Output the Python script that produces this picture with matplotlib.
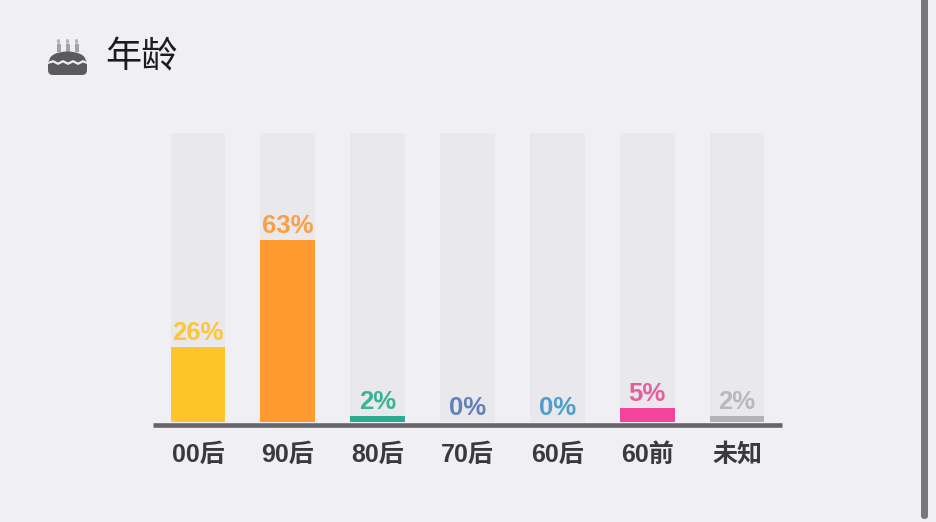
# Bar chart of age groups: each bar sits on a pale 100% track, with a cake icon next to the title.
import numpy as np
import matplotlib
matplotlib.use("Agg")
import matplotlib.pyplot as plt
from matplotlib.patches import Circle, Ellipse, FancyBboxPatch, Polygon, Rectangle

plt.rcParams["font.family"] = ["Liberation Sans", "Noto Sans CJK SC", "DejaVu Sans"]

BG = "#f0eff4"
TRACK = "#e9e8ec"
AXIS = "#666468"

categories = ["00后", "90后", "80后", "70后", "60后", "60前", "未知"]
values = [26, 63, 2, 0, 0, 5, 2]
track_values = [100, 100, 100, 100, 100, 100, 100]
bar_colors = ["#fdc52a", "#fe9a2e", "#2bab8f", "#5f7fbf", "#4a9bd0", "#f4459b", "#b3b2b5"]
label_colors = ["#fcc63a", "#f9a046", "#3bb397", "#6480ba", "#519dcb", "#e3609d", "#b9b8bc"]

W, H = 936, 522
fig = plt.figure(figsize=(W / 100, H / 100), dpi=100, facecolor=BG)

# overlay in pixel coordinates for the icon and the scrollbar
bg = fig.add_axes([0, 0, 1, 1])
bg.set_xlim(0, W); bg.set_ylim(H, 0); bg.axis("off")

# scrollbar on the right
bg.add_patch(FancyBboxPatch((921, -20), 7, 539, boxstyle="round,pad=0,rounding_size=3.5",
                            fc="#79777d", ec="none"))

# cake icon
ICON = "#5b5a5e"
for cx in (58.5, 67.5, 76.5):
    bg.add_patch(Rectangle((cx - 2, 44), 4, 8, fc="#a3a2a6", ec="none"))
    bg.add_patch(Ellipse((cx, 41.5), 3, 5, fc="#b4b3b7", ec="none"))
bg.add_patch(Ellipse((67.5, 60), 36, 17, fc=ICON, ec="none"))
bg.add_patch(FancyBboxPatch((48, 59), 39, 16, boxstyle="round,pad=0,rounding_size=5",
                            fc=ICON, ec="none"))
# icing band, a scalloped strip across the cake
bg.add_patch(Polygon([(48, 62), (53, 60), (58, 62.5), (63, 60), (68, 62.5), (73, 60), (78, 62.5),
                      (83, 60), (87, 62), (87, 64), (83, 62.5), (78, 65), (73, 62.5), (68, 65),
                      (63, 62.5), (58, 65), (53, 62.5), (48, 64)], fc=BG, ec="none"))

fig.text(105 / W, 1 - 58 / H, "年龄", fontsize=26, color="#1c1c1e", ha="left", va="center")

# plot area: one category step is 89.8 px, the tracks run from y=133 to y=422
ax = fig.add_axes([153 / W, 1 - 422 / H, (782 - 153) / W, (422 - 133) / H])
ax.patch.set_alpha(0)
x = np.arange(len(categories))
ax.bar(x, track_values, width=0.61, color=TRACK, zorder=1)
ax.bar(x, values, width=0.61, color=bar_colors, zorder=2)

for xi, v, col in zip(x, values, label_colors):
    ax.annotate(f"{v}%", (xi, v), xytext=(0, 5), textcoords="offset points", ha="center",
                va="baseline", fontsize=18.5, fontweight="bold", color=col, zorder=3)

for name in ("top", "left", "right"):
    ax.spines[name].set_visible(False)
# set_position resets the ticks, so it has to come before the tick styling
ax.spines["bottom"].set_position(("outward", 2))
ax.spines["bottom"].set_linewidth(3.3)
ax.spines["bottom"].set_color(AXIS)
ax.spines["bottom"].set_capstyle("butt")

ax.set_xlim(-0.5, 6.5)
ax.set_ylim(0, 100)
ax.set_xticks(x)
ax.set_xticklabels(categories, fontsize=18, fontweight="bold", color="#3a393d")
ax.set_yticks([])
ax.tick_params(axis="x", length=0, pad=13)

fig.savefig("out.png", dpi=100, facecolor=BG)
